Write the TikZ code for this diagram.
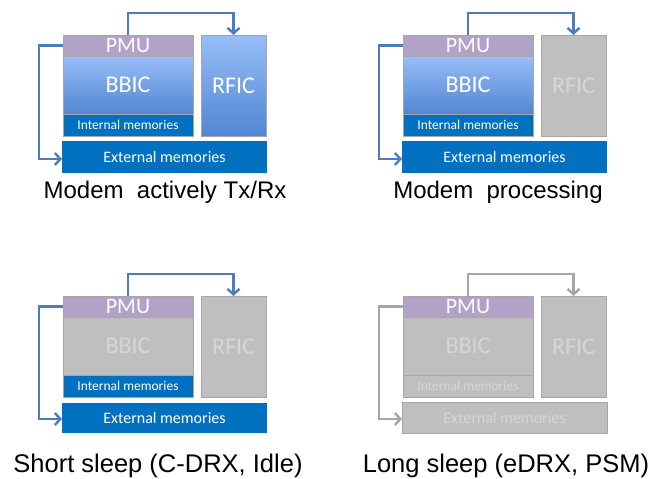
\documentclass[tikz,border=0pt]{standalone}
\usepackage{fontspec}
\setmainfont{Liberation Sans}
\newfontfamily\carlito{Carlito}
\usetikzlibrary{arrows.meta}
\definecolor{pmuc}{HTML}{B3A2C7}
\definecolor{memc}{HTML}{0070C0}
\definecolor{grayf}{HTML}{BFBFBF}
\definecolor{grayd}{HTML}{A6A6A6}
\definecolor{grayt}{HTML}{D6D6D6}
\definecolor{arrc}{HTML}{4A7EBB}
\definecolor{bbtop}{HTML}{98BEF8}
\definecolor{bbbot}{HTML}{5086D2}
\tikzset{
  box/.style={rectangle, inner sep=0pt, outer sep=0pt, draw=grayd, line width=0.8pt, text=white, font=\carlito},
  pmubox/.style={box, fill=pmuc, minimum width=130pt, minimum height=21pt, font=\carlito\fontsize{22}{22}\selectfont},
  bigbox/.style={box, font=\carlito\fontsize{24}{24}\selectfont},
  blueg/.style={top color=bbtop, bottom color=bbbot},
  grayb/.style={fill=grayf, text=grayt},
  intbox/.style={box, minimum width=130pt, minimum height=22pt, font=\carlito\fontsize{13.5}{13.5}\selectfont},
  extbox/.style={box, minimum width=205pt, minimum height=32pt, font=\carlito\fontsize{16}{16}\selectfont},
  bluem/.style={fill=memc, draw=none},
  arr/.style={draw=arrc, line width=2.4pt, -{Straight Barb[length=5.5pt,width=12pt]}},
  garr/.style={arr, draw=grayd},
  captext/.style={anchor=base, font=\fontsize{24}{24}\selectfont, text=black},
  captextb/.style={captext, font=\fontsize{25.5}{25.5}\selectfont}
}
\begin{document}
\begin{tikzpicture}[x=1pt,y=-1pt]
\useasboundingbox (0,0) rectangle (656,479);
% ---------- Panel 1 ----------
\begin{scope}
\node[pmubox] (p1pmu) at (128,45.5) {PMU};
\node[bigbox, blueg, minimum width=130pt, minimum height=58pt] (p1bb) at (128,85) {BBIC};
\node[intbox, fill=memc] (p1int) at (128,125) {Internal memories};
\node[bigbox, blueg, minimum width=65pt, minimum height=101pt] (p1rf) at (233.5,85.5) {RFIC};
\node[extbox, bluem] (p1ext) at (164.5,157) {External memories};
\draw[arr] (p1pmu.north) -- ++(0,-22) -| (p1rf.north);
\draw[arr] (p1pmu.west) -- ++(-24,0) |- ([yshift=-2pt]p1ext.west);
\node[captext] (p1cap) at (165,198) {Modem\ \ actively Tx/Rx};
\end{scope}
% ---------- Panel 2 ----------
\begin{scope}[shift={(340,0)}]
\node[pmubox] (p2pmu) at (128,45.5) {PMU};
\node[bigbox, blueg, minimum width=130pt, minimum height=58pt] (p2bb) at (128,85) {BBIC};
\node[intbox, fill=memc] (p2int) at (128,125) {Internal memories};
\node[bigbox, grayb, minimum width=65pt, minimum height=101pt] (p2rf) at (233.5,85.5) {RFIC};
\node[extbox, bluem] (p2ext) at (164.5,157) {External memories};
\draw[arr] (p2pmu.north) -- ++(0,-22) -| (p2rf.north);
\draw[arr] (p2pmu.west) -- ++(-24,0) |- ([yshift=-2pt]p2ext.west);
\node[captext] (p2cap) at (158,198) {Modem\ \ processing};
\end{scope}
% ---------- Panel 3 ----------
\begin{scope}[shift={(0,261)}]
\node[pmubox] (p3pmu) at (128,45.5) {PMU};
\node[bigbox, grayb, minimum width=130pt, minimum height=58pt] (p3bb) at (128,85) {BBIC};
\node[intbox, fill=memc] (p3int) at (128,125) {Internal memories};
\node[bigbox, grayb, minimum width=65pt, minimum height=101pt] (p3rf) at (233.5,85.5) {RFIC};
\node[extbox, bluem, minimum height=30pt] (p3ext) at (164.5,157) {External memories};
\draw[arr] (p3pmu.north) -- ++(0,-22) -| (p3rf.north);
\draw[arr] (p3pmu.west) -- ++(-24,0) |- ([yshift=-1pt]p3ext.west);
\node[captextb] (p3cap) at (158,211) {Short sleep (C-DRX, Idle)};
\end{scope}
% ---------- Panel 4 ----------
\begin{scope}[shift={(340,261)}]
\node[pmubox] (p4pmu) at (128,45.5) {PMU};
\node[bigbox, grayb, minimum width=130pt, minimum height=58pt] (p4bb) at (128,85) {BBIC};
\node[intbox, grayb] (p4int) at (128,125) {Internal memories};
\node[bigbox, grayb, minimum width=65pt, minimum height=101pt] (p4rf) at (233.5,85.5) {RFIC};
\node[extbox, grayb, minimum height=31pt] (p4ext) at (164.5,157) {External memories};
\draw[garr] (p4pmu.north) -- ++(0,-22) -| (p4rf.north);
\draw[garr] (p4pmu.west) -- ++(-24,0) |- ([yshift=-1pt]p4ext.west);
\node[captextb] (p4cap) at (166,211) {Long sleep (eDRX, PSM)};
\end{scope}
\end{tikzpicture}
\end{document}
